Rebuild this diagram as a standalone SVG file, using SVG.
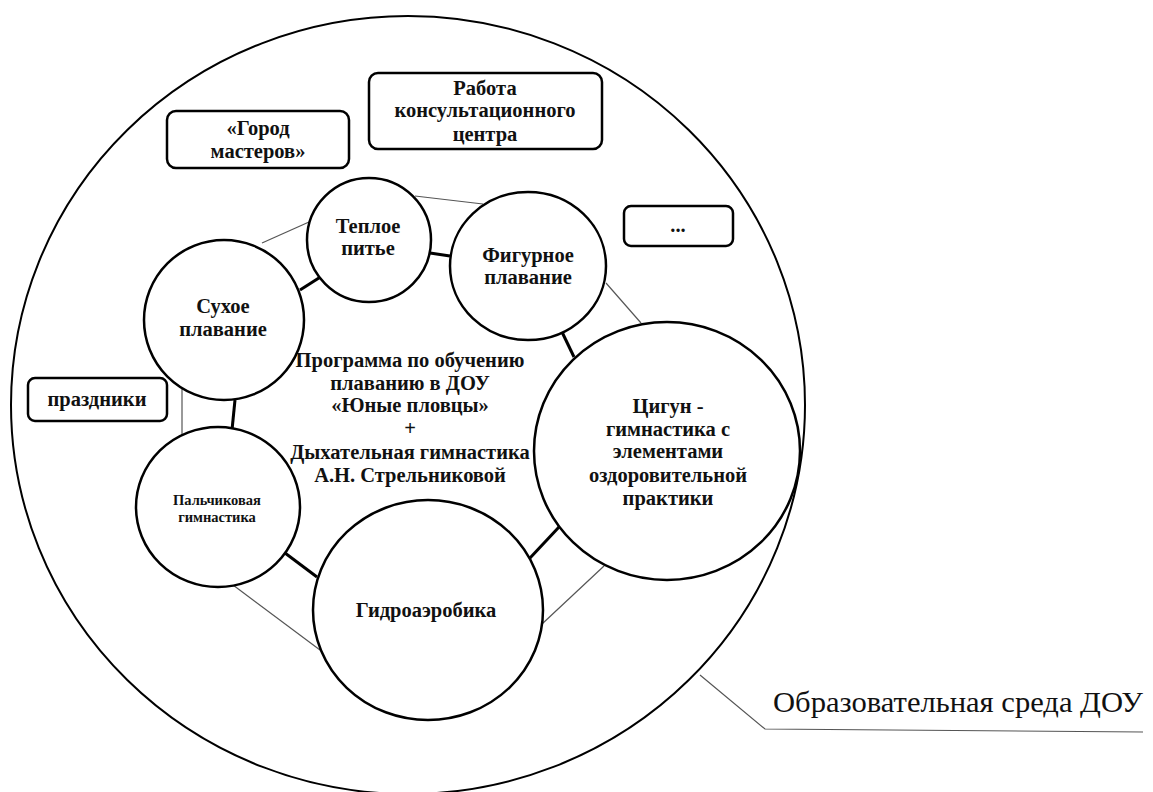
<svg xmlns="http://www.w3.org/2000/svg" width="1153" height="792" viewBox="0 0 1153 792">
<style>
.bg{fill:#fff}
.outer{fill:none;stroke:#000;stroke-width:2}
.node{fill:#fff;stroke:#000;stroke-width:2.5}
.box{fill:#fff;stroke:#000;stroke-width:2.5}
.ring{stroke:#000;stroke-width:3;fill:none}
.thin{stroke:#555;stroke-width:1.2;fill:none}
.t{font-family:"Liberation Serif","DejaVu Serif",serif;font-weight:bold;font-size:20.5px;fill:#111;text-anchor:middle}
.s{font-size:14.5px}
.lab{font-family:"Liberation Serif","DejaVu Serif",serif;font-size:29px;fill:#111}
</style>
<rect class="bg" x="0" y="0" width="1153" height="792"/>
<g id="environment">
<ellipse class="outer" cx="408" cy="405" rx="397" ry="389"/>
<polyline class="thin" points="700,675 765,729 1143,732"/>
<text class="lab" x="773" y="712" textLength="370" lengthAdjust="spacingAndGlyphs">Образовательная среда ДОУ</text>
</g>
<g id="connectors">
<line class="ring" x1="300" y1="290" x2="322" y2="276"/>
<line class="ring" x1="430" y1="253" x2="450" y2="256"/>
<line class="ring" x1="562" y1="332" x2="574" y2="357"/>
<line class="ring" x1="559" y1="527" x2="530" y2="558"/>
<line class="ring" x1="285" y1="553" x2="317" y2="577"/>
<line class="ring" x1="235" y1="400" x2="232" y2="430"/>
<line class="thin" x1="262" y1="243" x2="309" y2="222"/>
<line class="thin" x1="415" y1="196" x2="483" y2="204"/>
<line class="thin" x1="606" y1="283" x2="641" y2="323"/>
<line class="thin" x1="604" y1="566" x2="542" y2="624"/>
<line class="thin" x1="233" y1="585" x2="320" y2="650"/>
<line class="thin" x1="182" y1="388" x2="182" y2="440"/>
</g>
<g id="center">
<text class="t" x="410" y="367">Программа по обучению</text>
<text class="t" x="410" y="390">плаванию в ДОУ</text>
<text class="t" x="410" y="412">«Юные пловцы»</text>
<text class="t" x="410" y="435">+</text>
<text class="t" x="410" y="459">Дыхательная гимнастика</text>
<text class="t" x="410" y="482">А.Н. Стрельниковой</text>
</g>
<g id="teploe">
<ellipse class="node" cx="369" cy="240" rx="62" ry="62"/>
<text class="t" x="368" y="233">Теплое</text>
<text class="t" x="368" y="255">питье</text>
</g>
<g id="figurnoe">
<ellipse class="node" cx="528" cy="266" rx="78" ry="74"/>
<text class="t" x="528" y="262">Фигурное</text>
<text class="t" x="528" y="284">плавание</text>
</g>
<g id="suhoe">
<ellipse class="node" cx="224" cy="320" rx="80" ry="80"/>
<text class="t" x="223" y="313">Сухое</text>
<text class="t" x="223" y="336">плавание</text>
</g>
<g id="palchik">
<ellipse class="node" cx="218" cy="507" rx="82" ry="80"/>
<text class="t s" x="217" y="505">Пальчиковая</text>
<text class="t s" x="217" y="522">гимнастика</text>
</g>
<g id="gidro">
<ellipse class="node" cx="428" cy="610" rx="115" ry="110"/>
<text class="t" x="426" y="617">Гидроаэробика</text>
</g>
<g id="cigun">
<ellipse class="node" cx="667" cy="451" rx="133" ry="129"/>
<text class="t" x="668" y="413">Цигун -</text>
<text class="t" x="668" y="436">гимнастика с</text>
<text class="t" x="668" y="458">элементами</text>
<text class="t" x="668" y="482">оздоровительной</text>
<text class="t" x="668" y="505">практики</text>
</g>
<g id="gorod">
<rect class="box" x="167" y="111" width="182" height="57" rx="9"/>
<text class="t" x="258" y="135">«Город</text>
<text class="t" x="258" y="158">мастеров»</text>
</g>
<g id="rabota">
<rect class="box" x="369" y="73" width="233" height="76" rx="9"/>
<text class="t" x="485" y="95">Работа</text>
<text class="t" x="485" y="117">консультационного</text>
<text class="t" x="485" y="141">центра</text>
</g>
<g id="dots">
<rect class="box" x="624" y="206" width="109" height="40" rx="7"/>
<text class="t" x="678" y="232">...</text>
</g>
<g id="prazdniki">
<rect class="box" x="28" y="378" width="139" height="43" rx="7"/>
<text class="t" x="97" y="406">праздники</text>
</g>
</svg>
